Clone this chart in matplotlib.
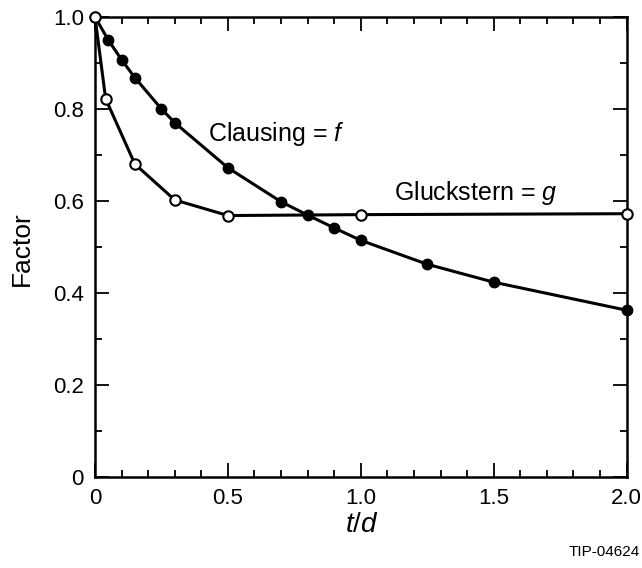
import numpy as np
import matplotlib
matplotlib.use("Agg")
import matplotlib.pyplot as plt
from matplotlib.ticker import MultipleLocator

plt.rcParams['font.family'] = ['Liberation Sans', 'DejaVu Sans']
plt.rcParams['mathtext.fontset'] = 'custom'
plt.rcParams['mathtext.rm'] = 'Liberation Sans'
plt.rcParams['mathtext.it'] = 'Liberation Sans:italic'

# Clausing factor f (filled circles)
clausing_x = [0, 0.05, 0.1, 0.15, 0.25, 0.3, 0.5, 0.7, 0.8, 0.9, 1.0, 1.25, 1.5, 2.0]
clausing_y = [1.0, 0.95, 0.907, 0.868, 0.80, 0.77, 0.672, 0.598, 0.569, 0.541, 0.514, 0.462, 0.423, 0.362]

# Gluckstern factor g (open circles)
gluck_x = [0, 0.04, 0.15, 0.3, 0.5, 1.0, 2.0]
gluck_y = [1.0, 0.822, 0.68, 0.602, 0.568, 0.570, 0.572]

fig = plt.figure(figsize=(6.42, 5.68), dpi=100)
ax = fig.add_axes([0.148, 0.161, 0.828, 0.809])

ax.plot(clausing_x, clausing_y, '-o', color='black', lw=2.2,
        markersize=7.5, markerfacecolor='black', markeredgecolor='black',
        zorder=3, clip_on=False)
ax.plot(gluck_x, gluck_y, '-o', color='black', lw=2.2,
        markersize=7.5, markerfacecolor='white', markeredgecolor='black',
        markeredgewidth=1.5, zorder=4, clip_on=False)

ax.set_xlim(0, 2.0)
ax.set_ylim(0, 1.0)
ax.xaxis.set_minor_locator(MultipleLocator(0.1))
ax.yaxis.set_minor_locator(MultipleLocator(0.1))
ax.set_xticks([0, 0.5, 1.0, 1.5, 2.0])
ax.set_xticklabels(['0', '0.5', '1.0', '1.5', '2.0'])
ax.set_yticks([0, 0.2, 0.4, 0.6, 0.8, 1.0])
ax.set_yticklabels(['0', '0.2', '0.4', '0.6', '0.8', '1.0'])

ax.tick_params(which='both', direction='in', top=True, right=True,
               width=1.3, labelsize=16)
ax.tick_params(which='major', length=10, pad=8)
ax.tick_params(which='minor', length=5)
for s in ax.spines.values():
    s.set_linewidth(1.8)

ax.text(0.424, 0.745, 'Clausing = $f$', fontsize=18, ha='left', va='center')
ax.text(1.126, 0.616, 'Gluckstern = $g$', fontsize=18, ha='left', va='center')

fig.text(0.034, 0.563, 'Factor', fontsize=19, rotation=90, ha='center', va='center')
fig.text(0.563, 0.076, '$t/d$', fontsize=20, ha='center', va='center')
fig.text(0.997, 0.028, 'TIP-04624', fontsize=11, ha='right', va='center')

fig.savefig('out.png', dpi=100)
